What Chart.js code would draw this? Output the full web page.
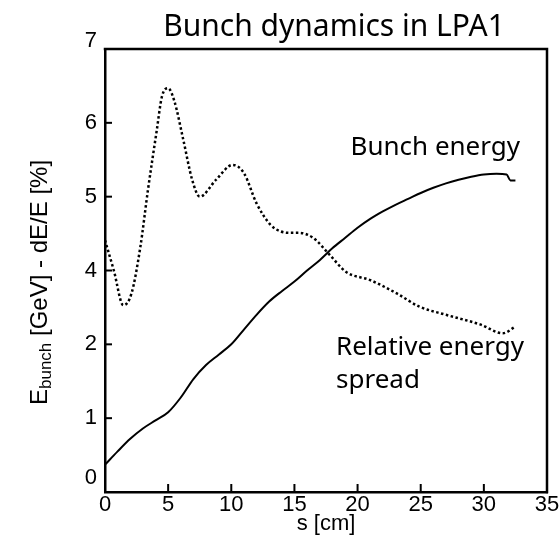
<!DOCTYPE html>
<html>
<head>
<meta charset="utf-8">
<script src="https://cdn.jsdelivr.net/npm/chart.js@4.4.1/dist/chart.umd.min.js"></script>
<style>
  html, body { margin: 0; padding: 0; background: #fff; }
</style>
</head>
<body>
<canvas id="chart" width="560" height="545"></canvas>
<script>
/*
    *   y values are in axis positions (0..6); the printed tick labels
    *   on the original figure skip "3", see y_tick_labels
* */

// Bunch energy (solid)
var energy_s   = [0, 1, 2, 3, 4, 5, 6, 7, 8, 9, 10, 11, 12, 13, 14, 15, 16, 17, 18, 19, 20,
                  21, 22, 23, 24, 25, 26, 27, 28, 29, 30, 31, 31.8, 32.1, 32.5];
var energy_val = [0.37, 0.55, 0.72, 0.86, 0.97, 1.08, 1.28, 1.53, 1.72, 1.86, 2.0, 2.2, 2.4,
                  2.58, 2.72, 2.85, 3.0, 3.14, 3.3, 3.44, 3.58, 3.7, 3.8, 3.89, 3.97, 4.05,
                  4.12, 4.18, 4.23, 4.27, 4.3, 4.31, 4.3, 4.22, 4.22];

// Relative energy spread (dotted)
var spread_s   = [0, 0.7, 1.45, 2.1, 2.8, 3.4, 4.1, 4.5, 5.0, 5.5, 6.2, 6.9, 7.5, 8.8, 10.1,
                  11.0, 12.0, 13.1, 13.9, 14.7, 15.4, 16.5, 17.7, 19.1, 21.0, 23.1, 24.9,
                  27.0, 29.7, 31.5, 32.5];
var spread_val = [3.41, 3.0, 2.53, 2.69, 3.32, 4.09, 4.9, 5.35, 5.47, 5.29, 4.77, 4.23, 4.0,
                  4.23, 4.43, 4.32, 3.91, 3.62, 3.53, 3.51, 3.51, 3.44, 3.23, 2.98, 2.87,
                  2.69, 2.51, 2.4, 2.27, 2.15, 2.24];

var y_tick_labels = ['0', '1', '2', '4', '5', '6', '7'];
var x_min = 0, x_max = 35, x_step = 5;

var TitleFont = 'Noto Sans';
var AxisFont = 'Liberation Sans, Arial, sans-serif';

function points (xs, ys) {
    return xs.map((x, i) => ({ x: x, y: ys[i] }));
}

/* title, y axis title with subscript, labels, frame and inward ticks */
var decorations = {
    id: 'decorations',
    afterDraw: function (chart) {
        var ctx = chart.ctx;
        var area = chart.chartArea;
        var sx = chart.scales.x, sy = chart.scales.y;
        ctx.save();
        ctx.strokeStyle = '#000';
        ctx.fillStyle = '#000';

        // frame top + right
        ctx.lineWidth = 2.5;
        ctx.beginPath();
        ctx.moveTo(area.left - 1.25, area.top);
        ctx.lineTo(area.right, area.top);
        ctx.lineTo(area.right, area.bottom + 1.25);
        ctx.stroke();

        // ticks pointing inside
        ctx.lineWidth = 2;
        sx.ticks.forEach(t => {
            var px = sx.getPixelForValue(t.value);
            ctx.beginPath();
            ctx.moveTo(px, area.bottom);
            ctx.lineTo(px, area.bottom - 8);
            ctx.stroke();
        });
        sy.ticks.forEach(t => {
            var py = sy.getPixelForValue(t.value);
            ctx.beginPath();
            ctx.moveTo(area.left, py);
            ctx.lineTo(area.left + 7, py);
            ctx.stroke();
        });

        // chart title
        ctx.font = '30px "' + TitleFont + '"';
        ctx.textAlign = 'center';
        ctx.textBaseline = 'alphabetic';
        ctx.fillText('Bunch dynamics in LPA1', 334, 36);

        // curve labels
        ctx.font = '26px "' + TitleFont + '"';
        ctx.textAlign = 'right';
        ctx.fillText('Bunch energy', 520, 155);
        ctx.textAlign = 'left';
        ctx.fillText('Relative energy', 336, 355);
        ctx.fillText('spread', 336, 388);

        // y axis title: E_bunch [GeV] - dE/E [%]
        ctx.translate(47, 405);
        ctx.rotate(-Math.PI / 2);
        ctx.textAlign = 'left';
        var x = 0;
        ctx.font = '24px ' + AxisFont;
        ctx.fillText('E', x, 0);
        x += ctx.measureText('E').width;
        ctx.font = '17px ' + AxisFont;
        ctx.fillText('bunch', x, 4);
        x += ctx.measureText('bunch').width;
        ctx.font = '24px ' + AxisFont;
        ctx.fillText(' [GeV] - dE/E [%]', x, 0);
        ctx.restore();
    }
};

var chart = new Chart(document.getElementById('chart'), {
    type: 'line',
    data: {
        datasets: [
            {
                label: 'Bunch energy',
                data: points(energy_s, energy_val),
                borderColor: '#000',
                borderWidth: 2,
                pointRadius: 0,
                cubicInterpolationMode: 'monotone',
                fill: false
            },
            {
                label: 'Relative energy spread',
                data: points(spread_s, spread_val),
                borderColor: '#000',
                borderWidth: 2.5,
                borderDash: [2.5, 2.5],
                pointRadius: 0,
                cubicInterpolationMode: 'monotone',
                fill: false
            }
        ]
    },
    options: {
        responsive: false,
        animation: false,
        layout: { padding: { top: 49, right: 13, left: 0, bottom: 0 } },
        plugins: {
            legend: { display: false },
            tooltip: { enabled: false },
            title: { display: false }
        },
        scales: {
            x: {
                type: 'linear',
                min: x_min,
                max: x_max,
                ticks: {
                    stepSize: x_step,
                    padding: 0,
                    color: '#000',
                    font: { family: AxisFont, size: 22 }
                },
                grid: { drawOnChartArea: false, drawTicks: false },
                border: { color: '#000', width: 2.5 },
                title: {
                    display: true,
                    text: 's [cm]',
                    color: '#000',
                    font: { family: AxisFont, size: 22 },
                    padding: { top: 0, bottom: 8 }
                },
                afterFit: scale => { scale.height = 53; }
            },
            y: {
                type: 'linear',
                min: 0,
                max: y_tick_labels.length - 1,
                ticks: {
                    stepSize: 1,
                    padding: 8,
                    color: '#000',
                    callback: function (value) {
                        var lab = y_tick_labels[Math.round(value)];
                        // the end labels sit a little above their tick
                        if (value === 0 || value === y_tick_labels.length - 1) return [lab, ''];
                        return lab;
                    },
                    font: function (ctx) {
                        var lh = 1.2;
                        if (ctx.tick && ctx.tick.value === 0) lh = 1.27;
                        if (ctx.tick && ctx.tick.value === y_tick_labels.length - 1) lh = 0.73;
                        return { family: AxisFont, size: 22, lineHeight: lh };
                    }
                },
                grid: { drawOnChartArea: false, drawTicks: false },
                border: { color: '#000', width: 2.5 },
                afterFit: scale => { scale.width = 105; }
            }
        }
    },
    plugins: [decorations]
});
</script>
</body>
</html>
